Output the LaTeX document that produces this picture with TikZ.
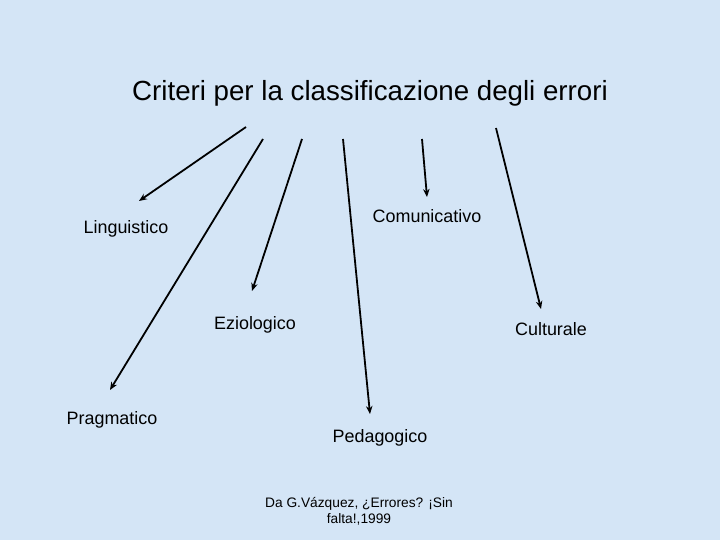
\documentclass[tikz,border=0pt]{standalone}
\usepackage{fontspec}
\setmainfont{Liberation Sans}
\usetikzlibrary{arrows.meta}
\definecolor{bgblue}{RGB}{212,229,246}
\tikzset{
  lbl/.style={inner sep=0pt, font=\fontsize{18}{21}\selectfont},
  conn/.style={line width=1.8pt, -{Stealth[length=8pt,width=6.5pt]}},
}
\begin{document}
\begin{tikzpicture}[x=1bp,y=-1bp]
\fill[bgblue] (0,0) rectangle (720,540);
\useasboundingbox (0,0) rectangle (720,540);
\node[inner sep=0pt, font=\fontsize{27.8}{32}\selectfont] (title) at (370,93) {Criteri per la classificazione degli errori};
\node[lbl] (ling) at (126,229) {Linguistico};
\node[lbl] (com) at (427,216) {Comunicativo};
\node[lbl] (ezi) at (255,325) {Eziologico};
\node[lbl] (cul) at (551,329) {Culturale};
\node[lbl] (prag) at (112,420) {Pragmatico};
\node[lbl] (ped) at (380,438) {Pedagogico};
\node[inner sep=0pt, align=center, font=\fontsize{13.8}{16}\selectfont] (cit) at (359,511) {Da G.Vázquez, ¿Errores? ¡Sin\\falta!,1999};
\coordinate (s1) at (246,127); \coordinate (e1) at (139,201);
\coordinate (s2) at (302,139); \coordinate (e2) at (252,291);
\coordinate (s3) at (263,139); \coordinate (e3) at (110,390);
\coordinate (s4) at (343,139); \coordinate (e4) at (370,414);
\coordinate (s5) at (422,139); \coordinate (e5) at (427,197);
\coordinate (s6) at (496,128); \coordinate (e6) at (541,309);
\draw[conn] (s1) -- (e1);
\draw[conn] (s2) -- (e2);
\draw[conn] (s3) -- (e3);
\draw[conn] (s4) -- (e4);
\draw[conn] (s5) -- (e5);
\draw[conn] (s6) -- (e6);
\end{tikzpicture}
\end{document}
